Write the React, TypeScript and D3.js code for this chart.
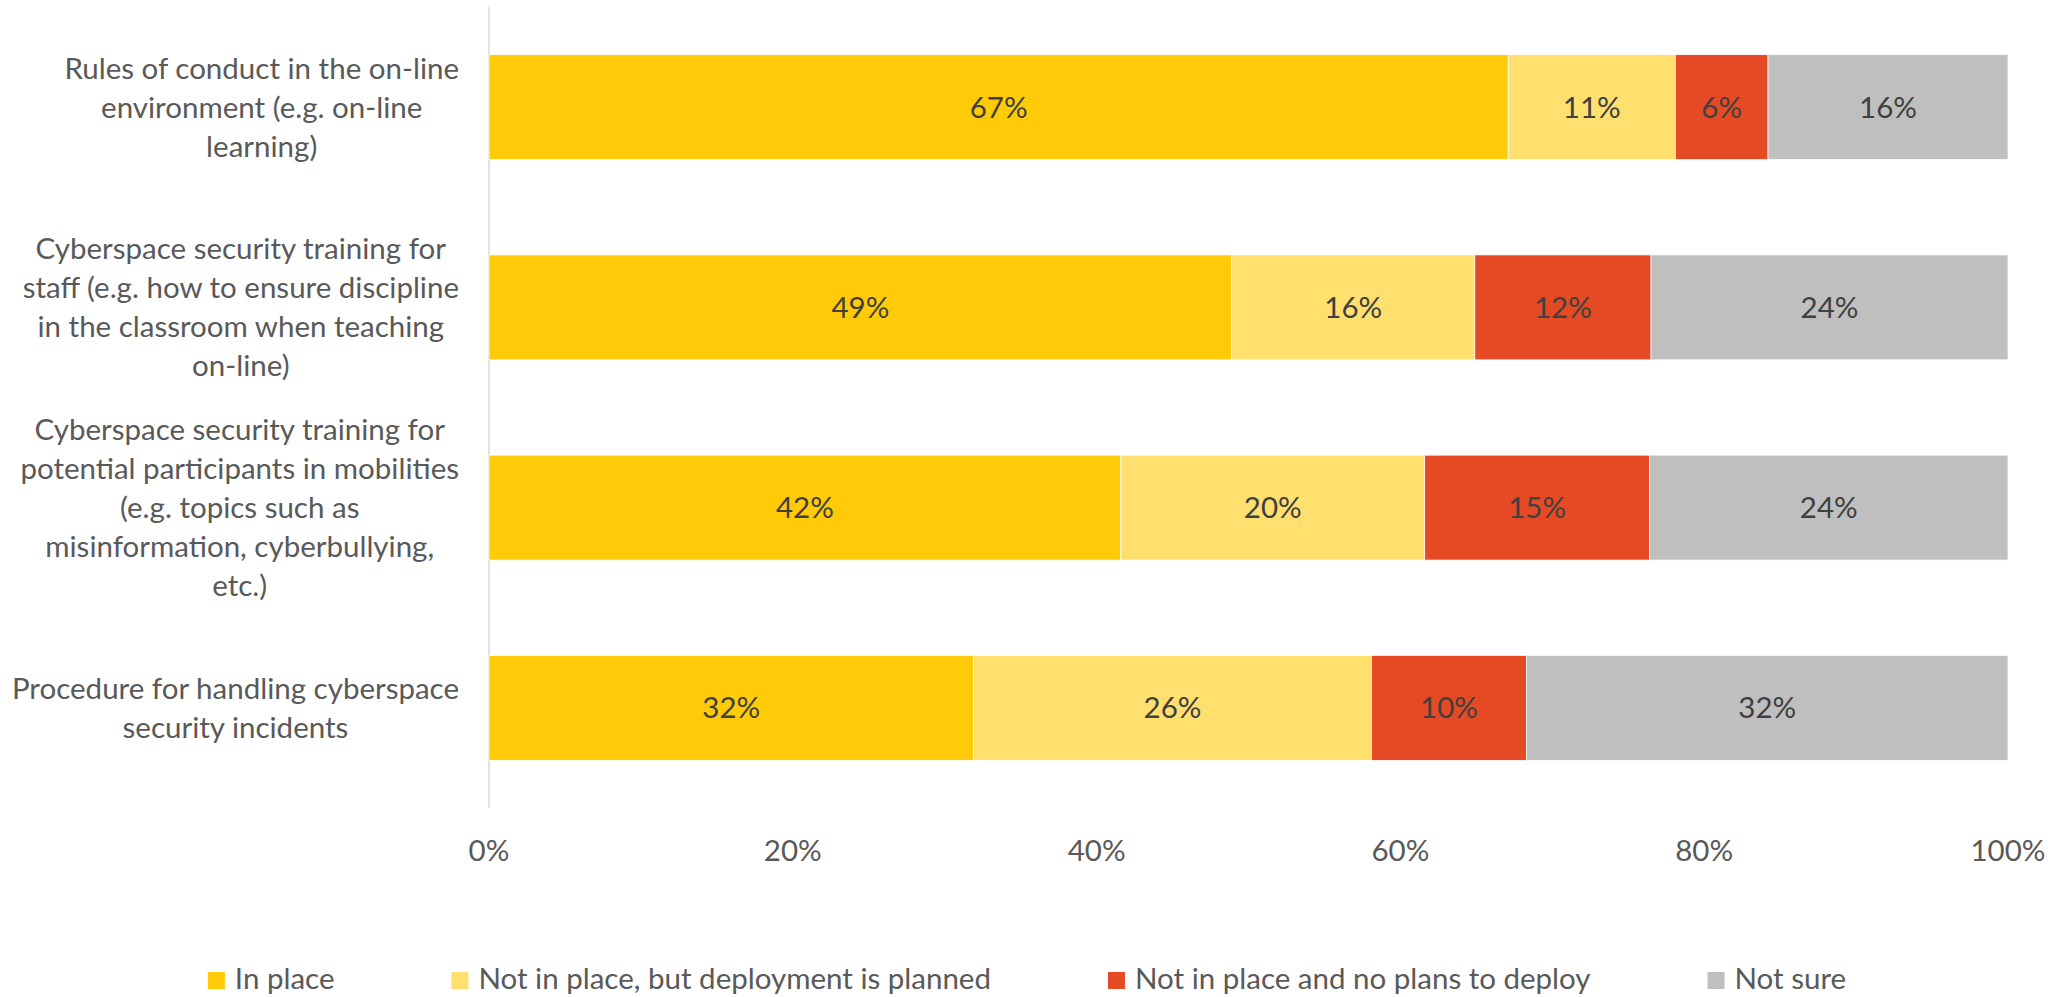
import React, { useEffect, useRef } from "react";
import * as d3 from "d3";

const categories: string[][] = [
  ["Rules of conduct in the on-line", "environment (e.g. on-line", "learning)"],
  ["Cyberspace security training for", "staff (e.g. how to ensure discipline", "in the classroom when teaching", "on-line)"],
  ["Cyberspace security training for", "potential participants in mobilities", "(e.g. topics such as", "misinformation, cyberbullying,", "etc.)"],
  ["Procedure for handling cyberspace", "security incidents"],
];

const seriesNames = [
  "In place",
  "Not in place, but deployment is planned",
  "Not in place and no plans to deploy",
  "Not sure",
];

const inPlace = [67.1, 48.9, 41.6, 31.9];
const planned = [11.0, 16.0, 20.0, 26.2];
const noPlans = [6.1, 11.6, 14.8, 10.2];
const notSure = [15.8, 23.5, 23.6, 31.7];

const tickValues = [0, 20, 40, 60, 80, 100];

const colors = ["#FFCA08", "#FFDF6E", "#E64A24", "#BFBFBF"];

const W = 2057;
const H = 997;
const FONT = "Lato, 'Open Sans', sans-serif";
const FS = 29.5;

export default function App() {
  const ref = useRef<SVGSVGElement | null>(null);

  useEffect(() => {
    document.body.style.margin = "0";
    const svg = d3.select(ref.current);
    svg.selectAll("*").remove();

    const x = d3.scaleLinear().domain([0, 100]).range([489, 2008]);
    const y = d3
      .scaleBand<number>()
      .domain(d3.range(categories.length))
      .range([7, 808])
      .paddingInner(0.476)
      .paddingOuter(0.238);

    const series = [inPlace, planned, noPlans, notSure];
    const rows = categories.map((_, i) => {
      const obj: Record<string, number> = {};
      seriesNames.forEach((s, k) => (obj[s] = series[k][i]));
      return obj;
    });
    const stacked = d3.stack<Record<string, number>>().keys(seriesNames)(rows);

    // axis line
    svg
      .append("line")
      .attr("x1", x(0))
      .attr("x2", x(0))
      .attr("y1", 7)
      .attr("y2", 808)
      .attr("stroke", "#D9D9D9")
      .attr("stroke-width", 1.5);

    // bars
    stacked.forEach((layer, k) => {
      const g = svg.append("g");
      layer.forEach((d, i) => {
        const x0 = x(d[0]);
        const x1 = x(d[1]);
        const yy = y(i)!;
        g.append("rect")
          .attr("x", x0)
          .attr("y", yy)
          .attr("width", x1 - x0)
          .attr("height", y.bandwidth())
          .attr("fill", colors[k])
          .attr("stroke", "#FFFFFF")
          .attr("stroke-width", 0.75);
        g.append("text")
          .attr("x", (x0 + x1) / 2)
          .attr("y", yy + y.bandwidth() / 2 + 10.5)
          .attr("text-anchor", "middle")
          .attr("font-family", FONT)
          .attr("font-size", FS)
          .attr("fill", "#404040")
          .text(`${Math.round(d[1] - d[0])}%`);
      });
    });

    // tick labels
    svg
      .append("g")
      .selectAll("text")
      .data(tickValues)
      .join("text")
      .attr("x", (d) => x(d))
      .attr("y", 861)
      .attr("text-anchor", "middle")
      .attr("font-family", FONT)
      .attr("font-size", FS)
      .attr("fill", "#595959")
      .text((d) => `${d}%`);

    // category labels
    const lh = 39;
    categories.forEach((lines, i) => {
      const cy = y(i)! + y.bandwidth() / 2;
      const g = svg.append("g");
      const texts = lines.map((ln, j) =>
        g
          .append("text")
          .attr("y", cy + 10.5 + (j - (lines.length - 1) / 2) * lh)
          .attr("text-anchor", "middle")
          .attr("font-family", FONT)
          .attr("font-size", FS)
          .attr("fill", "#595959")
          .text(ln)
      );
      const maxW = d3.max(texts, (t) => (t.node() as SVGTextElement).getComputedTextLength()) || 0;
      texts.forEach((t) => t.attr("x", 459 - maxW / 2));
    });

    // legend
    const lg = svg.append("g");
    const sq = 17;
    const gapText = 10;
    const gapEntry = 117;
    const items = seriesNames.map((name, k) => {
      const gi = lg.append("g");
      gi.append("rect")
        .attr("x", 0)
        .attr("y", 972)
        .attr("width", sq)
        .attr("height", sq)
        .attr("fill", colors[k]);
      const t = gi
        .append("text")
        .attr("x", sq + gapText)
        .attr("y", 989)
        .attr("font-family", FONT)
        .attr("font-size", FS)
        .attr("fill", "#595959")
        .text(name);
      const w = (t.node() as SVGTextElement).getComputedTextLength();
      return { gi, w: sq + gapText + w };
    });
    const total = d3.sum(items, (it) => it.w) + gapEntry * (items.length - 1);
    let cx = 1027 - total / 2;
    items.forEach((it) => {
      it.gi.attr("transform", `translate(${cx},0)`);
      cx += it.w + gapEntry;
    });
  }, []);

  return <svg ref={ref} width={W} height={H} style={{ display: "block", background: "#fff" }} />;
}
